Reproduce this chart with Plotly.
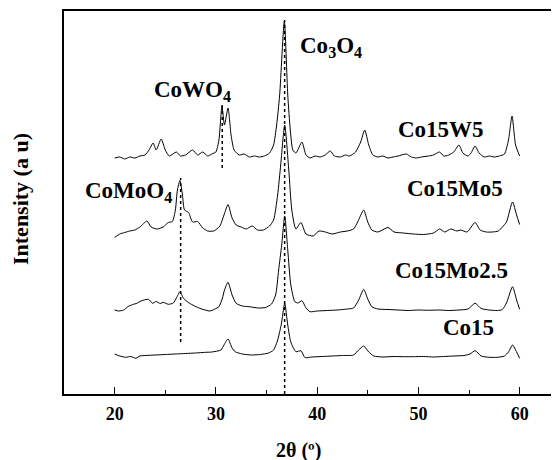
import plotly.graph_objects as go

# ---- data (2theta in degrees, intensity in arbitrary units, stacked as displayed) ----
w5_x = [20.0, 20.5, 21.0, 21.5, 22.0, 22.5, 23.0, 23.4, 23.8, 24.1, 24.6, 25.0, 25.4, 26.1, 26.5,
        27.0, 27.7, 28.2, 28.7, 29.2, 29.6, 30.0, 30.3, 30.6, 30.85, 31.2, 31.5, 31.8, 32.3, 32.8,
        33.3, 33.8, 34.3, 34.8, 35.3, 35.7, 36.0, 36.3, 36.76, 37.1, 37.35, 37.6, 37.9, 38.5, 38.9,
        39.3, 39.8, 40.3, 40.8, 41.3, 41.7, 42.3, 42.8, 43.2, 43.8, 44.3, 44.7, 45.1, 45.5, 46.0,
        46.5, 47.0, 47.5, 48.0, 48.8, 49.3, 49.8, 50.3, 51.0, 51.5, 52.1, 52.5, 53.0, 53.5, 54.0,
        54.4, 54.9, 55.2, 55.6, 56.0, 56.5, 57.0, 57.5, 58.0, 58.5, 58.9, 59.25, 59.6, 60.0]
w5_y = [236, 237, 235, 237, 236, 238, 239, 244, 251, 244, 255, 244, 238, 242, 238,
        239, 244, 239, 242, 238, 240, 242, 254, 288, 269, 286, 259, 244, 239, 240,
        237, 238, 237, 238, 241, 249, 269, 299, 373, 299, 264, 244, 241, 252, 239,
        236, 238, 237, 239, 243, 238, 237, 239, 238, 242, 252, 264, 249, 239, 237,
        238, 236, 237, 238, 240, 237, 236, 237, 238, 239, 242, 238, 239, 242, 249,
        241, 238, 241, 248, 241, 237, 238, 237, 238, 240, 254, 278, 249, 238]

mo5_x = [20.0, 20.5, 21.0, 21.5, 22.0, 22.5, 23.2, 23.6, 24.2, 24.8, 25.3, 25.7, 26.0, 26.2, 26.45,
         26.7, 26.9, 27.3, 27.7, 28.2, 28.7, 29.2, 29.8, 30.4, 30.8, 31.2, 31.6, 32.0, 32.5, 33.0,
         33.6, 34.1, 34.7, 35.3, 35.7, 36.1, 36.4, 36.8, 37.2, 37.5, 37.9, 38.4, 38.9, 39.6, 40.2,
         40.8, 41.5, 42.3, 43.0, 43.6, 44.0, 44.6, 45.0, 45.4, 46.0, 47.0, 47.6, 48.5, 49.5, 50.5,
         51.5, 52.1, 52.6, 53.2, 53.8, 54.2, 54.8, 55.6, 56.1, 56.7, 57.3, 57.9, 58.3, 58.7, 59.3,
         59.7, 60.0]
mo5_y = [156.5, 160, 161.5, 163, 164, 167, 173, 167, 165, 167, 171.5, 172.5, 184, 204, 213.5,
         199, 184, 181.5, 172, 172.5, 166, 163, 163, 168, 179, 189.5, 176, 169, 167, 165,
         168, 164, 164, 168, 174, 199, 229, 269, 224, 184, 165, 171.5, 160, 158, 163,
         162, 160, 162, 163, 165, 172, 184, 172, 164, 162, 166.5, 162, 161, 160, 159.5,
         161, 165, 162, 165, 163, 164, 162, 171.5, 164, 162, 162, 163, 167, 172, 192,
         179, 169.5]

mo25_x = [20.0, 20.4, 20.9, 21.3, 21.8, 22.2, 22.6, 23.35, 23.75, 24.1, 24.5, 24.8, 25.3, 25.8, 26.1,
          26.45, 26.8, 27.4, 28.4, 29.4, 29.9, 30.3, 30.65, 30.85, 31.2, 31.6, 32.0, 32.6, 33.3, 34.2,
          34.9, 35.5, 35.9, 36.2, 36.5, 36.8, 37.1, 37.4, 37.8, 38.1, 38.5, 38.9, 39.3, 40.0, 41.0,
          42.0, 43.0, 43.6, 44.1, 44.6, 45.0, 45.4, 46.0, 47.0, 48.0, 49.0, 50.0, 51.0, 52.0, 53.0,
          54.0, 54.9, 55.6, 56.2, 57.0, 57.8, 58.3, 58.7, 59.3, 59.7, 60.0]
mo25_y = [84, 83, 84, 87.3, 89.5, 90.7, 93, 94.7, 90.7, 92.5, 90.5, 91.7, 89.7, 91, 96,
          102.3, 95.7, 90.7, 85.7, 83, 85, 87.3, 96, 104, 111.7, 99, 90.7, 88, 87.3, 86,
          86.5, 90, 99, 124, 149, 178, 144, 109, 92.3, 91, 93.3, 86, 82.3, 83, 83.5,
          84, 85, 86, 94, 104.7, 95, 87.3, 85, 84.5, 84, 83.5, 84, 83.7, 84, 83.5,
          84, 85, 90.7, 85.5, 84, 83.5, 84.5, 91, 107.3, 94, 84.7]

co15_x = [20.0, 20.5, 21.1, 21.6, 22.1, 22.5, 23.1, 24.0, 25.0, 26.0, 27.0, 28.0, 29.0, 29.6, 30.5,
          30.8, 31.2, 31.6, 31.9, 32.6, 33.5, 34.4, 35.2, 35.7, 36.1, 36.45, 36.8, 37.1, 37.4, 37.9,
          38.4, 38.8, 39.5, 40.5, 41.5, 42.5, 43.6, 44.1, 44.6, 45.1, 45.6, 46.5, 47.5, 48.5, 49.5,
          50.5, 51.5, 52.5, 53.5, 54.5, 55.1, 55.6, 56.2, 57.0, 57.8, 58.5, 58.9, 59.3, 59.7, 60.0]
co15_y = [40, 38, 36.7, 37.5, 35.7, 38, 38.5, 39, 39.5, 40, 40.5, 41, 41.7, 42, 44,
          49, 55, 46, 42.3, 40, 39, 39.5, 41, 44, 54, 69, 90.7, 69, 52, 42.3,
          43.3, 36.5, 37, 37.5, 38, 38.5, 39, 44, 48, 42, 38, 37, 37.5, 37.3, 37.3,
          37.5, 37, 37.5, 38, 38.5, 40, 43.3, 38, 36.7, 36.7, 38, 42, 49, 42, 35.7]

series_names = ["Co15W5", "Co15Mo5", "Co15Mo2.5", "Co15"]
series_x = [w5_x, mo5_x, mo25_x, co15_x]
series_y = [w5_y, mo5_y, mo25_y, co15_y]

# reference phase lines: position, lower and upper intensity
phase_x = [30.63, 26.52, 36.79]
phase_ylo = [226, 52, 0]
phase_yhi = [289, 216, 374]

# labels: text, x (deg), y (a.u.)
label_text = ["Co<sub>3</sub>O<sub>4</sub>", "CoWO<sub>4</sub>", "CoMoO<sub>4</sub>",
              "Co15W5", "Co15Mo5", "Co15Mo2.5", "Co15"]
label_x = [38.07, 23.65, 16.87, 47.82, 48.64, 47.46, 52.27]
label_y = [347, 303, 202, 265, 206, 124, 67]

xticks = [20, 30, 40, 50, 60]

FONT = "Liberation Serif"
BODY = 8  # default page margin of the html body

fig = go.Figure()
for name, xs, ys in zip(series_names, series_x, series_y):
    fig.add_trace(go.Scatter(x=xs, y=ys, mode="lines", name=name,
                             line=dict(color="black", width=1, shape="spline", smoothing=0.6),
                             showlegend=False))
for px, lo, hi in zip(phase_x, phase_ylo, phase_yhi):
    fig.add_trace(go.Scatter(x=[px, px], y=[lo, hi], mode="lines",
                             line=dict(color="black", width=1.5, dash="dot"),
                             showlegend=False, hoverinfo="skip"))

for t, lx, ly in zip(label_text, label_x, label_y):
    fig.add_annotation(x=lx, y=ly, text="<b>%s</b>" % t, showarrow=False,
                       xanchor="left", yanchor="middle",
                       font=dict(family=FONT, size=23, color="black"))

# axis titles
fig.add_annotation(xref="paper", yref="paper", x=(20 - 64) / 495, y=(394 - 199) / 383,
                   text="<b>Intensity (a u)</b>", textangle=-90, showarrow=False,
                   xanchor="center", yanchor="middle",
                   font=dict(family=FONT, size=22, color="black"))
fig.add_annotation(xref="paper", yref="paper", x=(298.5 - 64) / 495, y=-(450 - 394) / 383,
                   text="<b>2θ (º)</b>", showarrow=False,
                   xanchor="center", yanchor="middle",
                   font=dict(family=FONT, size=20, color="black"))

fig.update_layout(
    width=559 - BODY, height=460 - BODY,
    margin=dict(l=64 - BODY, r=0, t=11 - BODY, b=66, autoexpand=False),
    paper_bgcolor="white", plot_bgcolor="white",
    font=dict(family=FONT, color="black"),
    xaxis=dict(range=[15, 15 + 495 / 10.125], tickvals=xticks,
               ticktext=["<b>%d</b>" % v for v in xticks],
               ticks="inside", ticklen=7, tickwidth=1.2, tickcolor="black",
               minor=dict(dtick=5, tick0=0, ticks="inside", ticklen=4, tickwidth=1.2, tickcolor="black"),
               showline=True, linewidth=1.5, linecolor="black", mirror=True,
               showgrid=False, zeroline=False, ticklabelstandoff=3,
               tickfont=dict(family=FONT, size=18, color="black")),
    yaxis=dict(range=[0, 383], showticklabels=False, ticks="",
               showline=True, linewidth=1.5, linecolor="black", mirror=False,
               showgrid=False, zeroline=False),
)

fig.write_html("out.html")
